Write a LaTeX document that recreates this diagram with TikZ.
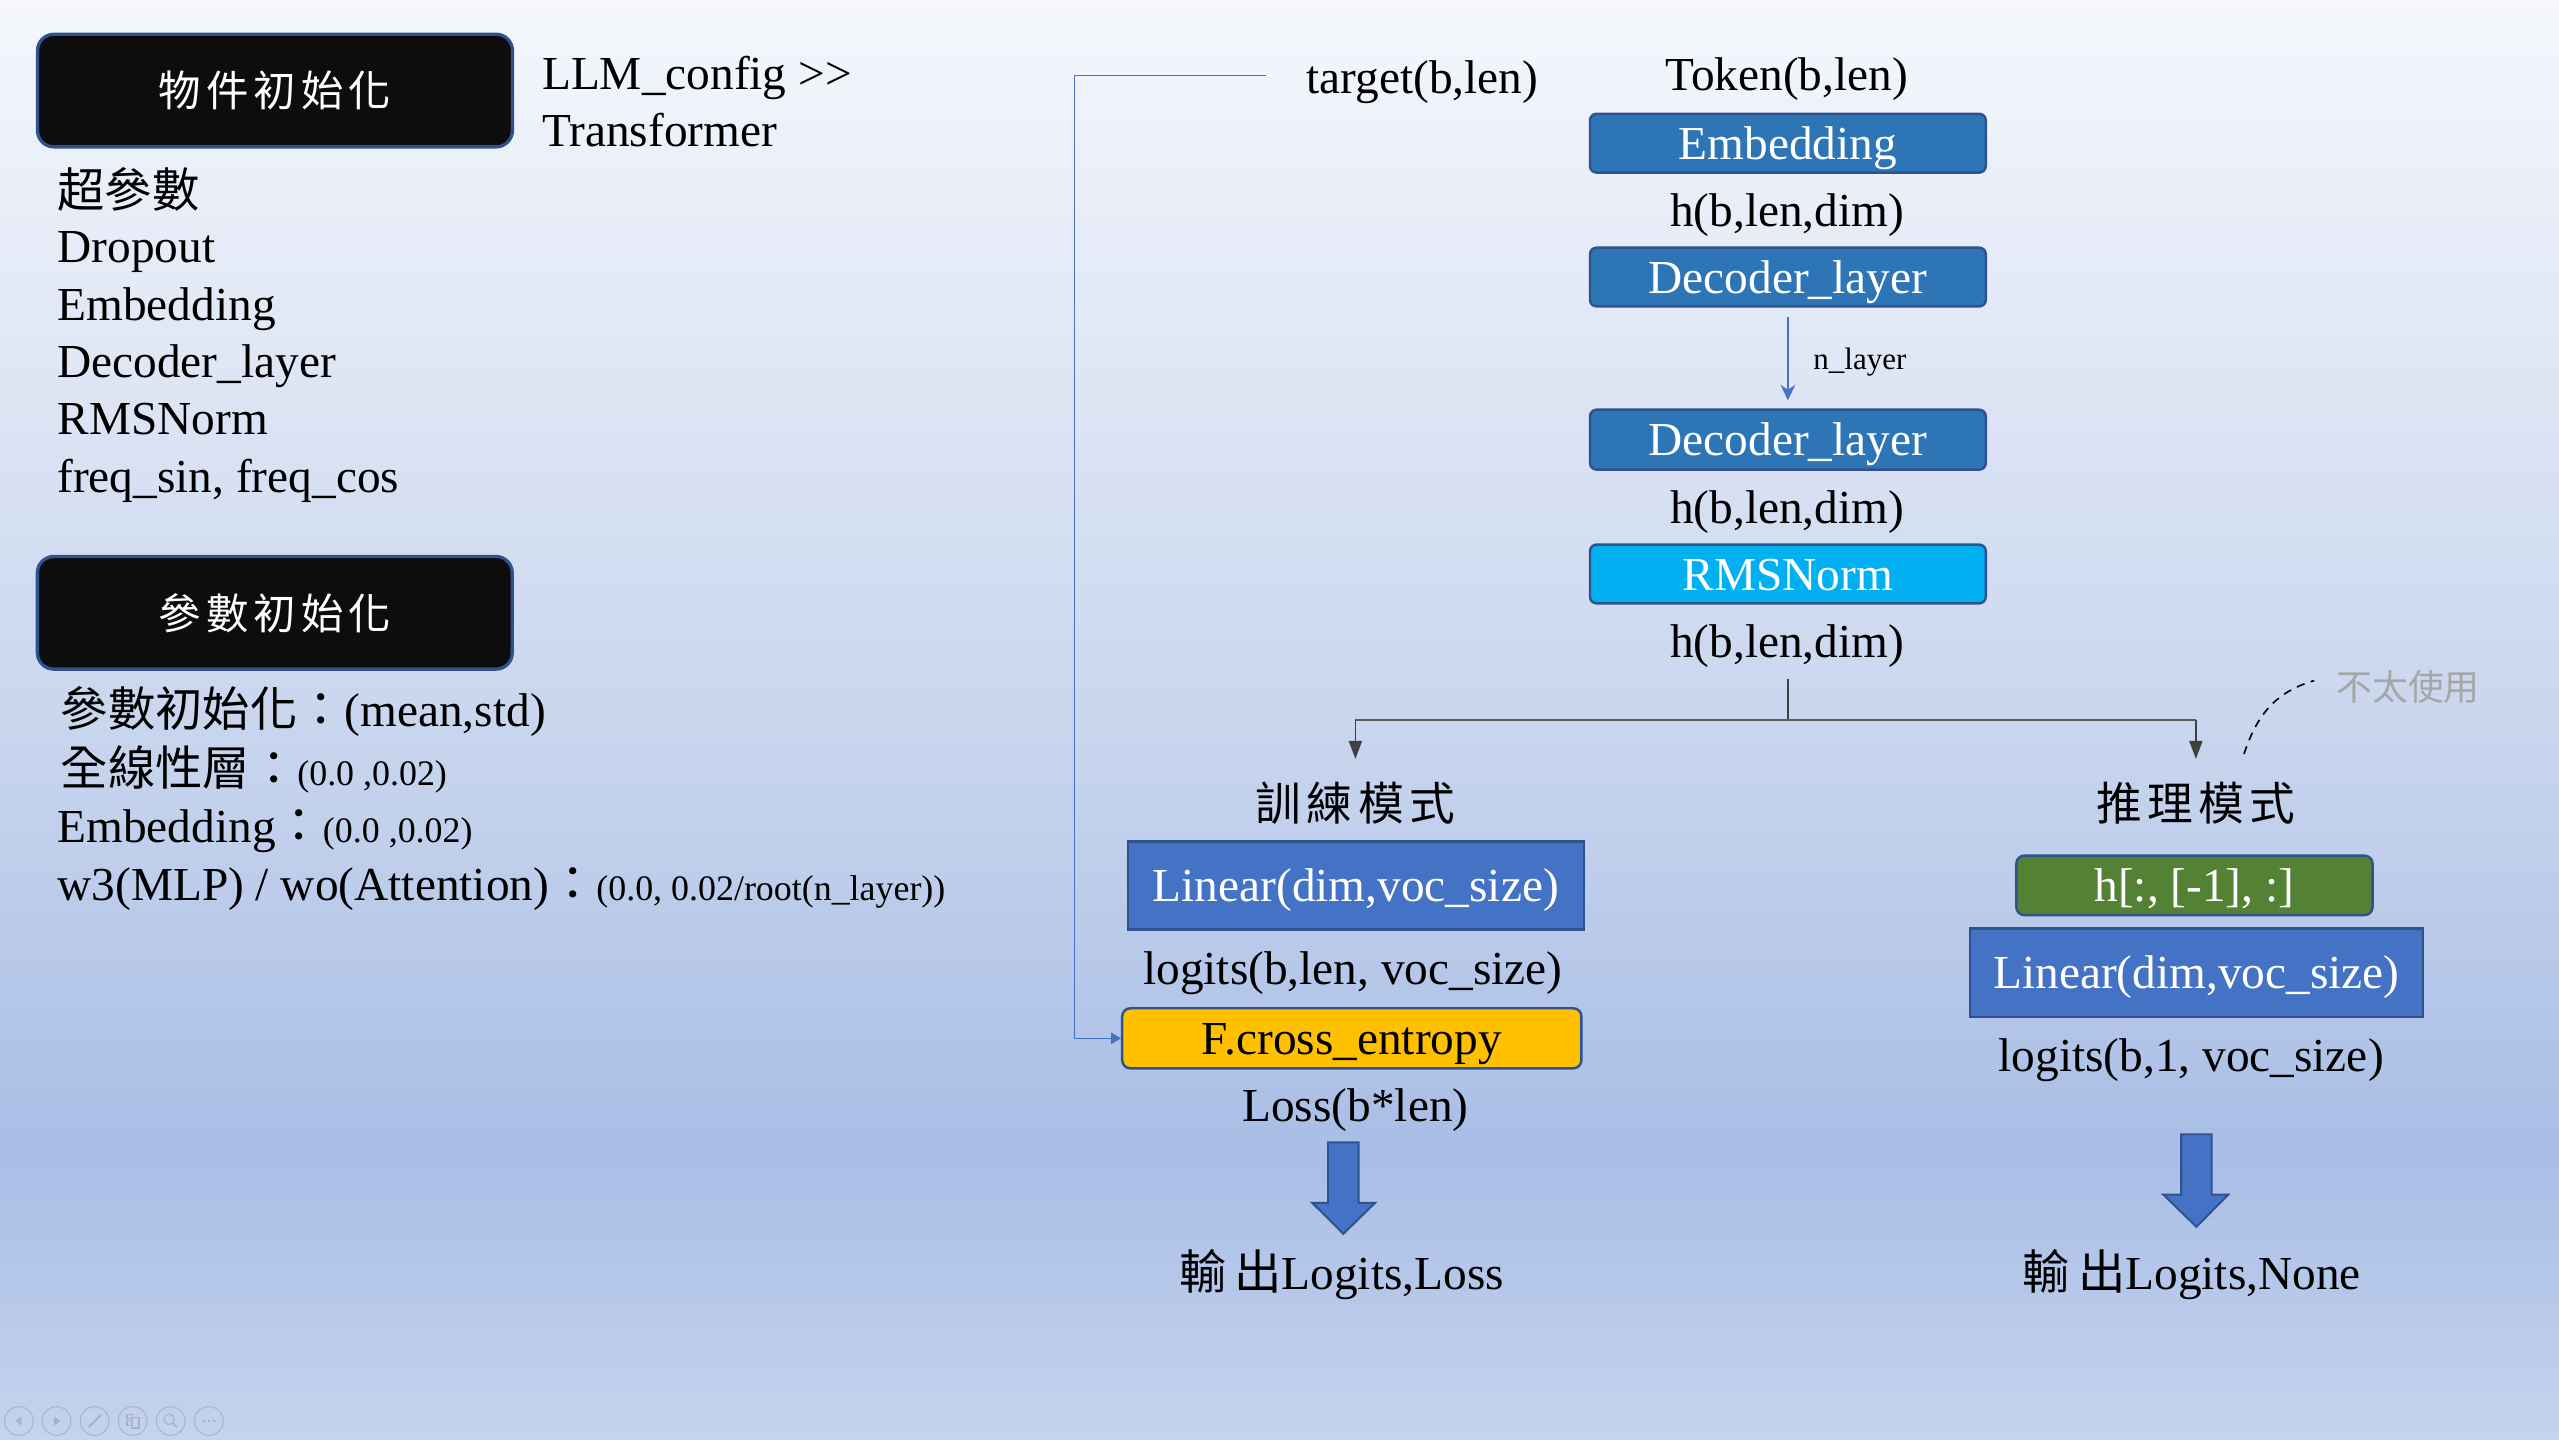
\documentclass[tikz,border=0pt]{standalone}
\usepackage{fontspec}
\setmainfont{Liberation Serif}
\newfontfamily\cjk{Noto Sans CJK TC}
\newfontfamily\cjksp[LetterSpace=12]{Noto Sans CJK TC}
\usetikzlibrary{arrows.meta}
\newcommand\fM{\fontsize{29}{35}\selectfont}
\newcommand\fS{\fontsize{22}{26}\selectfont}
\newcommand\fN{\fontsize{19}{23}\selectfont}
\definecolor{bgA}{HTML}{F5F7FC}
\definecolor{bgB}{HTML}{C9D6EE}
\definecolor{bgC}{HTML}{A9BEE6}
\definecolor{bgD}{HTML}{C4D3EE}
\definecolor{edgec}{HTML}{2F528F}
\definecolor{embc}{HTML}{2E75B6}
\definecolor{rmsc}{HTML}{00B0F0}
\definecolor{linc}{HTML}{4472C4}
\definecolor{grnc}{HTML}{548235}
\definecolor{yelc}{HTML}{FFC000}
\definecolor{blkc}{HTML}{0D0D0D}
\definecolor{linec}{HTML}{404040}
\definecolor{greyt}{HTML}{A6A6A6}
\definecolor{iconc}{HTML}{AAB3C4}
\begin{document}
\begin{tikzpicture}[x=1pt,y=-1pt,
  txt/.style={font=\fM, inner sep=0pt, anchor=base},
  txtl/.style={font=\fM, inner sep=0pt, anchor=base west},
  boxbase/.style={draw=edgec, line width=1.5pt, inner sep=0pt, text height=22pt, text depth=2pt, font=\fM, text=white},
  titlebox/.style={boxbase, fill=blkc, line width=2pt, rounded corners=10pt, minimum width=291pt, minimum height=69pt, font=\fontsize{26}{30}\cjksp},
  layerbox/.style={boxbase, fill=embc, rounded corners=4pt, minimum width=242.5pt, minimum height=36pt},
  linbox/.style={boxbase, fill=linc, minimum height=54pt},
  splitline/.style={draw=linec, line width=1pt},
  splitarrow/.style={splitline, -{Triangle[length=11pt,width=8pt]}},
  blockarrow/.style={fill=linc, draw=edgec, line width=1.2pt, line join=miter}
]
\useasboundingbox (0,0) rectangle (1568,882);
% background gradient
\shade[top color=bgA, bottom color=bgB] (0,0) rectangle (1568,441.5);
\shade[top color=bgB, bottom color=bgC] (0,441) rectangle (1568,705.5);
\shade[top color=bgC, bottom color=bgD] (0,705) rectangle (1568,882);

% ---------- left column ----------
\node[titlebox] (t1) at (168.5,55.5) {物件初始化};
\node[txtl] (llm) at (332,55) {LLM\_config {>}{>}};
\node[txtl] (trf) at (332,90) {Transformer};
\node[txtl] (l1) at (35,127) {\cjk 超參數};
\node[txtl] (l2) at (35,161) {Dropout};
\node[txtl] (l3) at (35,196.5) {Embedding};
\node[txtl] (l4) at (35,231.5) {Decoder\_layer};
\node[txtl] (l5) at (35,266.5) {RMSNorm};
\node[txtl] (l6) at (35,301.5) {freq\_sin, freq\_cos};

\node[titlebox] (t2) at (168.4,375.5) {參數初始化};
\node[txtl] (p1) at (37,445) {{\cjk 參數初始化：}(mean,std)};
\node[txtl] (p2) at (37,481) {{\cjk 全線性層：}{\fS(0.0 ,0.02)}};
\node[txtl] (p3) at (35,516) {Embedding{\cjk ：}{\fS(0.0 ,0.02)}};
\node[txtl] (p4) at (35,551.5) {w3(MLP) / wo(Attention){\cjk ：}{\fS(0.0, 0.02/root(n\_layer))}};

% ---------- main stack ----------
\node[txt] (tgt) at (871.5,57) {target(b,len)};
\node[txt] (tok) at (1094.7,55.6) {Token(b,len)};
\node[layerbox] (emb) at (1095.5,87.75) {Embedding};
\node[txt] (h1) at (1095,139) {h(b,len,dim)};
\node[layerbox] (dec1) at (1095.5,169.75) {Decoder\_layer};
\node[layerbox, minimum height=36.7pt] (dec2) at (1095.5,269.4) {Decoder\_layer};
\node[txt] (h2) at (1095,321) {h(b,len,dim)};
\node[layerbox, fill=rmsc] (rms) at (1095.5,351.7) {RMSNorm};
\node[txt] (h3) at (1095,403) {h(b,len,dim)};

\draw[draw=linc, line width=1.3pt, -{Stealth[length=9.5pt,width=9pt]}]
  ([yshift=-6pt]dec1.south) -- ([yshift=5pt]dec2.north)
  node[midway, right=15pt, yshift=-2pt, font=\fN, text=black, inner sep=0pt] (nl) {n\_layer};

% split
\coordinate (j) at (1095.5,441);
\coordinate (jl) at (830.5,441);
\coordinate (jr) at (1345.5,441);
\coordinate (al) at (830.5,465);
\coordinate (ar) at (1345.5,465);
\draw[splitline] (1095.5,416) -- (j);
\draw[splitline, line width=1.3pt, draw=linec!85] (jl) -- (jr);
\draw[splitarrow] (jl) -- (al);
\draw[splitarrow] (jr) -- (ar);

% "rarely used" note
\node[font=\fontsize{22}{26}\cjk, text=greyt, inner sep=0pt, anchor=base] (rare) at (1475.5,429) {不太使用};
\draw[black, line width=1pt, dash pattern=on 5pt off 4pt]
  (1375,462) .. controls (1384,434) and (1398,423) .. (1418,417);

% ---------- training branch ----------
\node[txt, font=\fontsize{28}{32}\cjksp] (trn) at (830.5,502.5) {訓練模式};
\node[linbox, minimum width=279.5pt] (linL) at (830.75,542.5) {Linear(dim,voc\_size)};
\node[txt] (logL) at (829,603.5) {logits(b,len, voc\_size)};
\node[boxbase, fill=yelc, text=black, rounded corners=5pt, minimum width=281.4pt, minimum height=36.8pt] (fce) at (828.3,636.2) {F.cross\_entropy};
\node[txt] (loss) at (830.5,687) {Loss(b*len)};
\node[txt] (outL) at (822,790) {{\cjk 輸\,出}Logits,Loss};

% target feed
\coordinate (ts) at (775.5,46.4);
\coordinate (tc) at (658.5,46.4);
\draw[draw=linc, line width=0.8pt, -{Triangle[length=6pt,width=7pt]}] (ts) -- (tc) |- (fce.west);

% ---------- inference branch ----------
\node[txt, font=\fontsize{28}{32}\cjksp] (inf) at (1345.5,502.5) {推理模式};
\node[boxbase, fill=grnc, rounded corners=5pt, minimum width=218.3pt, minimum height=36.5pt] (last) at (1344.6,542.5) {h[:, [-1], :]};
\node[linbox, minimum width=277.6pt, minimum height=54.2pt] (linR) at (1345.8,595.9) {Linear(dim,voc\_size)};
\node[txt] (logR) at (1342.6,656.6) {logits(b,1, voc\_size)};
\node[txt] (outR) at (1343,790) {{\cjk 輸\,出}Logits,None};

% block arrows
\draw[blockarrow] (813.7,700) -- (832.5,700) -- (832.5,737) -- (842.6,737) -- (823.1,756)
  -- (804,737) -- (813.7,737) -- cycle;
\draw[blockarrow] (1336.4,695) -- (1355.2,695) -- (1355.2,732) -- (1365.4,732) -- (1345.8,751.7)
  -- (1325.5,732) -- (1336.4,732) -- cycle;

% ---------- slideshow controls (faint) ----------
\foreach \cx in {11.6,34.7,58,81.3,104.6,128}
  \draw[iconc, line width=0.6pt] (\cx,870.7) circle[radius=8.8pt];
\fill[iconc] (9.3,870.7) -- (13.2,867.9) -- (13.2,873.5) -- cycle;
\fill[iconc] (37,870.7) -- (33.1,867.9) -- (33.1,873.5) -- cycle;
\draw[iconc, line width=1.2pt] (54.2,874.5) -- (61.8,866.9);
\draw[iconc, line width=0.7pt] (77.8,866.6) rectangle (81,869.4);
\draw[iconc, line width=0.7pt] (77.8,870.6) rectangle (81,873.4);
\draw[iconc, line width=0.7pt] (80.4,868.8) rectangle (85.2,875);
\draw[iconc, line width=0.7pt] (103.6,869.7) circle[radius=3.2pt];
\draw[iconc, line width=1pt] (105.9,872) -- (108.3,874.4);
\foreach \dx in {-3.2,0,3.2}
  \fill[iconc] (128+\dx,870.7) circle[radius=0.9pt];
\end{tikzpicture}
\end{document}
